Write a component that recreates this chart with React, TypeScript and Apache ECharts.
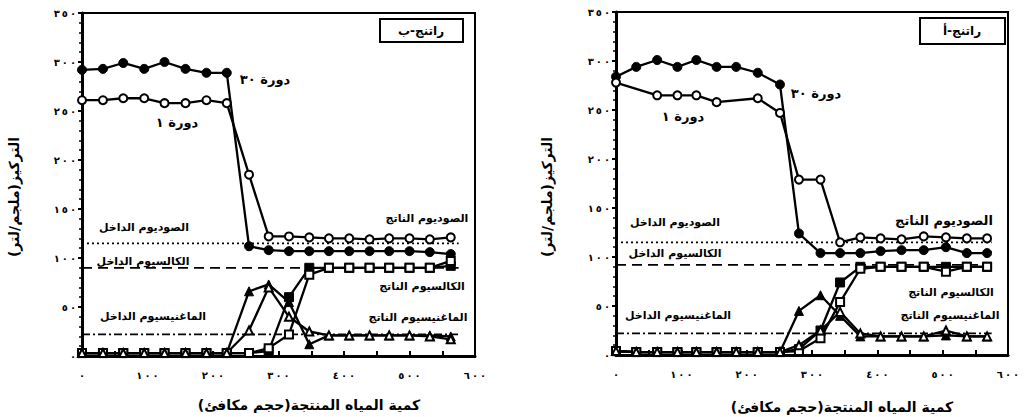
import React, { useEffect, useRef } from "react";
import * as echarts from "echarts";

// ---------- data ----------
// Panel B (left)
const X_B = [0, 32, 63, 95, 126, 158, 190, 221, 255, 285, 316, 347, 377, 408, 439, 469, 500, 531, 563];
const NA30_B = [292, 293, 299, 293, 300, 293, 289, 289, 112, 108, 107, 107, 107, 107, 107, 107, 107, 106, 104];
const NA1_B = [261, 261, 263, 263, 258, 258, 261, 258, 185, 122, 122, 121, 120, 120, 119, 120, 120, 119, 121];
const CA30_B = [3, 3, 3, 3, 3, 3, 3, 3, 3, 5, 60, 90, 90, 90, 90, 90, 90, 90, 92];
const CA1_B = [3, 3, 3, 3, 3, 3, 3, 3, 3, 8, 22, 83, 90, 90, 90, 90, 90, 90, 97];
const MG30_B = [3, 3, 3, 3, 3, 3, 3, 3, 66, 73, 55, 12, 21, 21, 21, 21, 21, 21, 20];
const MG1_B = [3, 3, 3, 3, 3, 3, 3, 3, 26, 70, 40, 25, 21, 21, 21, 21, 21, 20, 17];
const INLET_B = { na: 115, ca: 90, mg: 22 };

// Panel A (right)
const X_A = [0, 31, 63, 94, 123, 154, 184, 217, 251, 280, 313, 343, 374, 405, 437, 471, 505, 537, 568];
const NA30_A = [284, 294, 301, 294, 301, 294, 294, 288, 276, 124, 104, 104, 104, 106, 107, 107, 110, 104, 104];
const NA1_A = [278, null, 265, 265, 265, 258, null, 262, 247, 179, 179, 115, 120, 119, 118, 121, 120, 119, 119];
const CA30_A = [4, 3, 3, 3, 3, 3, 3, 3, 3, 6, 25, 74, 90, 90, 90, 90, 90, 90, 90];
const CA1_A = [4, 3, 3, 3, 3, 3, 3, 3, 3, 4, 17, 54, 88, 90, 90, 90, 85, 90, 90];
const MG30_A = [4, 3, 3, 3, 3, 3, 3, 3, 3, 45, 61, 40, 19, 19, 19, 19, 20, 19, 19];
const MG1_A = [4, 3, 3, 3, 3, 3, 3, 3, 3, 10, 25, 44, 22, 19, 19, 19, 25, 19, 19];
const INLET_A = { na: 115, ca: 92, mg: 22 };

const INLET_X = [0, 575];
const X_RANGE = [0, 600];
const Y_RANGE = [0, 350];

const TITLES = { b: "راتنج-ب", a: "راتنج-أ" };
const Y_TITLE = "التركيز(ملجم/لتر)";
const X_TITLE = "كمية المياه المنتجة(حجم مكافئ)";

// ---------- helpers ----------
const AR_DIGITS = "٠١٢٣٤٥٦٧٨٩";
const toAr = (v: number) =>
  String(v)
    .split("")
    .map((d) => "\u200E" + (/[0-9]/.test(d) ? AR_DIGITS[+d] : d))
    .join("\u2009") + "\u200E";
const rtl = (s: string) => "\u200F" + s + "\u200F";
const FONT = "'DejaVu Sans', sans-serif";

function dataSeries(gi: number, xs: number[], ys: (number | null)[], symbol: string, filled: boolean, size = 7) {
  return {
    type: "line",
    xAxisIndex: gi,
    yAxisIndex: gi,
    data: xs.map((x, i) => [x, ys[i]]),
    connectNulls: true,
    symbol,
    symbolSize: size,
    showSymbol: true,
    lineStyle: { color: "#000", width: 2.3 },
    itemStyle: filled
      ? { color: "#000", borderColor: "#000", borderWidth: 1 }
      : { color: "#fff", borderColor: "#000", borderWidth: 2 },
    z: 5,
  };
}

function inletSeries(gi: number, y: number, dash: number[]) {
  return {
    type: "line",
    xAxisIndex: gi,
    yAxisIndex: gi,
    data: INLET_X.map((x) => [x, y]),
    symbol: "none",
    lineStyle: { color: "#000", width: 1.8, type: dash },
    z: 2,
  };
}

function txt(x: number, y: number, text: string, size = 11, extra: any = {}) {
  return {
    type: "text",
    x,
    y,
    z: 20,
    style: {
      text: rtl(text),
      fill: "#000",
      font: `bold ${size}px ${FONT}`,
      align: "center",
      verticalAlign: "middle",
    },
    ...extra,
  };
}

export default function App() {
  const ref = useRef<HTMLDivElement>(null);

  useEffect(() => {
    if (!ref.current) return;
    const chart = echarts.init(ref.current, undefined, { renderer: "svg" });

    const xAxis = (gi: number) => ({
      type: "value",
      gridIndex: gi,
      min: X_RANGE[0],
      max: X_RANGE[1],
      interval: 100,
      axisLine: { show: true, onZero: false, lineStyle: { color: "#000", width: 3 } },
      axisTick: { show: true, inside: true, length: 5, lineStyle: { color: "#000", width: 2 } },
      minorTick: { show: true, splitNumber: 2, length: 5, lineStyle: { color: "#000", width: 2 } },
      splitLine: { show: false },
      axisLabel: {
        formatter: (v: number) => toAr(v),
        color: "#000",
        fontWeight: "bold",
        fontSize: 10,
        fontFamily: FONT,
        margin: 14,
      },
    });
    const yAxis = (gi: number) => ({
      type: "value",
      gridIndex: gi,
      min: Y_RANGE[0],
      max: Y_RANGE[1],
      interval: 50,
      axisLine: { show: true, onZero: false, lineStyle: { color: "#000", width: 3 } },
      axisTick: { show: true, inside: false, length: 4, lineStyle: { color: "#000", width: 2 } },
      minorTick: { show: true, splitNumber: 5, length: 3, lineStyle: { color: "#000", width: 1.5 } },
      splitLine: { show: false },
      axisLabel: {
        formatter: (v: number) => toAr(v),
        color: "#000",
        fontWeight: "bold",
        fontSize: 10,
        fontFamily: FONT,
        margin: 6,
      },
    });

    const option: any = {
      animation: false,
      backgroundColor: "#fff",
      grid: [
        { left: 82, top: 13, width: 393, height: 343, show: true, borderColor: "#000", borderWidth: 2, backgroundColor: "transparent" },
        { left: 616, top: 12, width: 392, height: 343, show: true, borderColor: "#000", borderWidth: 2, backgroundColor: "transparent" },
      ],
      xAxis: [xAxis(0), xAxis(1)],
      yAxis: [yAxis(0), yAxis(1)],
      series: [
        inletSeries(0, INLET_B.na, [2, 3]),
        inletSeries(0, INLET_B.ca, [10, 6]),
        inletSeries(0, INLET_B.mg, [8, 3, 2, 3]),
        dataSeries(0, X_B, NA30_B, "circle", true, 9),
        dataSeries(0, X_B, NA1_B, "circle", false, 8),
        dataSeries(0, X_B, CA30_B, "rect", true, 9),
        dataSeries(0, X_B, CA1_B, "rect", false, 8),
        dataSeries(0, X_B, MG30_B, "triangle", true, 9),
        dataSeries(0, X_B, MG1_B, "triangle", false, 8),
        inletSeries(1, INLET_A.na, [2, 3]),
        inletSeries(1, INLET_A.ca, [10, 6]),
        inletSeries(1, INLET_A.mg, [8, 3, 2, 3]),
        dataSeries(1, X_A, NA30_A, "circle", true, 9),
        dataSeries(1, X_A, NA1_A, "circle", false, 8),
        dataSeries(1, X_A, CA30_A, "rect", true, 9),
        dataSeries(1, X_A, CA1_A, "rect", false, 8),
        dataSeries(1, X_A, MG30_A, "triangle", true, 9),
        dataSeries(1, X_A, MG1_A, "triangle", false, 8),
      ],
      graphic: [
        // title boxes
        { type: "rect", shape: { x: 380, y: 19, width: 83, height: 23 }, style: { fill: "#fff", stroke: "#000", lineWidth: 2 }, z: 19 },
        txt(421, 31, TITLES.b, 12),
        { type: "rect", shape: { x: 920, y: 18, width: 85, height: 26 }, style: { fill: "#fff", stroke: "#000", lineWidth: 2 }, z: 19 },
        txt(962, 31, TITLES.a, 12),
        // cycle labels
        txt(265, 79, "دورة ٣٠", 13),
        txt(177, 122, "دورة ١", 13),
        txt(816, 93, "دورة ٣٠", 13),
        txt(683, 116, "دورة ١", 13),
        // inlet labels
        txt(144, 227, "الصوديوم الداخل", 11),
        txt(143, 261, "الكالسيوم الداخل", 11),
        txt(153, 316, "الماغنيسيوم الداخل", 11),
        txt(675, 222, "الصوديوم الداخل", 11),
        txt(675, 253, "الكالسيوم الداخل", 11),
        txt(678, 315, "الماغنيسيوم الداخل", 11),
        // outlet labels
        txt(427, 218, "الصوديوم الناتج", 11),
        txt(422, 286, "الكالسيوم الناتج", 11),
        txt(418, 317, "الماغنيسيوم الناتج", 11),
        txt(944, 220, "الصوديوم الناتج", 13),
        txt(951, 292, "الكالسيوم الناتج", 11),
        txt(950, 315, "الماغنيسيوم الناتج", 11),
        // axis titles
        txt(14, 197, Y_TITLE, 14, { rotation: Math.PI / 2 }),
        txt(547, 197, Y_TITLE, 14, { rotation: Math.PI / 2 }),
        txt(309, 405, X_TITLE, 14),
        txt(842, 407, X_TITLE, 14),
      ],
    };

    chart.setOption(option);
    return () => chart.dispose();
  }, []);

  return (
    <div
      ref={ref}
      style={{ position: "absolute", left: 0, top: 0, width: 1028, height: 417 }}
    />
  );
}
